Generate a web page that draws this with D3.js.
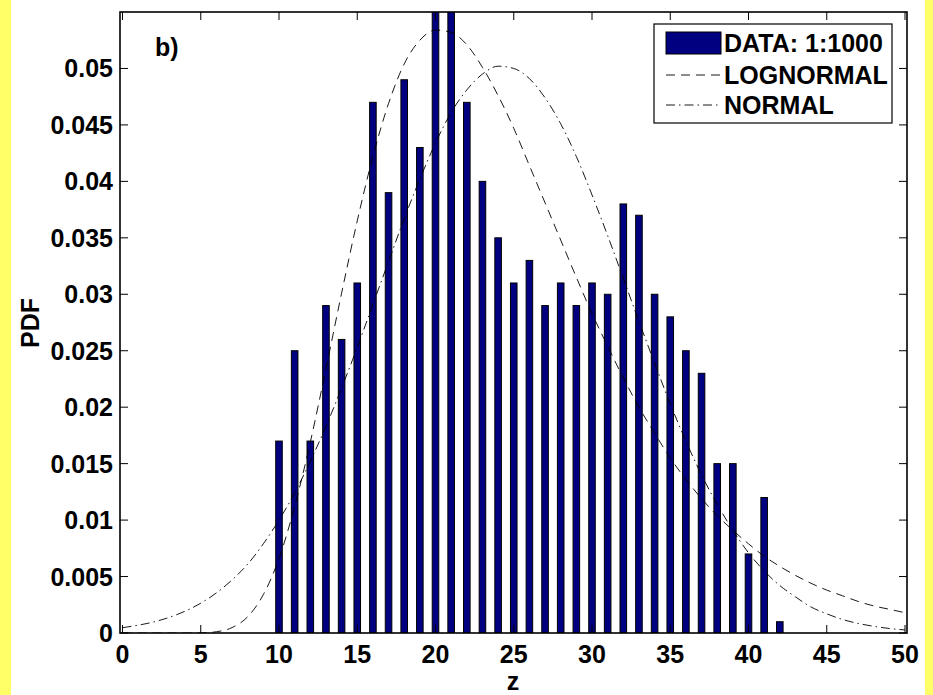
<!DOCTYPE html>
<html>
<head>
<meta charset="utf-8">
<script src="https://d3js.org/d3.v7.min.js"></script>
<style>
  body { margin: 0; background: #fff; }
  svg text { font-family: "Liberation Sans", Arial, sans-serif; font-weight: bold; fill: #000; }
</style>
</head>
<body>
<div id="chart"></div>
<script>
// histogram bins (z) and their PDF heights
var binZ = [10, 11, 12, 13, 14, 15, 16, 17, 18, 19, 20, 21, 22, 23, 24, 25, 26,
  27, 28, 29, 30, 31, 32, 33, 34, 35, 36, 37, 38, 39, 40, 41, 42];
var binPdf = [0.017, 0.025, 0.017, 0.029, 0.026, 0.031, 0.047, 0.039, 0.049, 0.043, 0.056, 0.056, 0.047,
  0.040, 0.035, 0.031, 0.033, 0.029, 0.031, 0.029, 0.031, 0.030, 0.038, 0.037, 0.030,
  0.028, 0.025, 0.023, 0.015, 0.015, 0.007, 0.012, 0.001];

// fitted curves, read at z = 0..50
var curveZ = [0, 1, 2, 3, 4, 5, 6, 7, 8, 9, 10, 11, 12, 13, 14, 15, 16, 17, 18, 19, 20,
  21, 22, 23, 24, 25, 26, 27, 28, 29, 30, 31, 32, 33, 34, 35, 36, 37, 38, 39, 40,
  41, 42, 43, 44, 45, 46, 47, 48, 49, 50];
var lognormalPdf = [0, 0, 0, 0, 0.000001, 0.000015, 0.00011, 0.00048, 0.00144, 0.0034, 0.0066,
  0.0112, 0.0169, 0.0234, 0.0301, 0.0365, 0.0422, 0.0469, 0.0504, 0.0525, 0.0534,
  0.0532, 0.0521, 0.0501, 0.0476, 0.0447, 0.0414, 0.0381, 0.0348, 0.0315, 0.0283,
  0.0254, 0.0226, 0.0200, 0.0177, 0.0155, 0.0136, 0.0119, 0.0104, 0.0091, 0.0079,
  0.0068, 0.0059, 0.0051, 0.0044, 0.0038, 0.0033, 0.0028, 0.0024, 0.0021, 0.0018];
var normalPdf = [0.00047, 0.00069, 0.00098, 0.00139, 0.00193, 0.00264, 0.00355, 0.0047, 0.0061, 0.0079, 0.0100,
  0.0124, 0.0152, 0.0183, 0.0217, 0.0253, 0.0291, 0.0329, 0.0367, 0.0402, 0.0434,
  0.0461, 0.0481, 0.0495, 0.0502, 0.0500, 0.0491, 0.0474, 0.0451, 0.0422, 0.0388,
  0.0352, 0.0314, 0.0276, 0.0239, 0.0203, 0.0170, 0.0140, 0.0114, 0.0091, 0.0071,
  0.0055, 0.0042, 0.0032, 0.0023, 0.0017, 0.0012, 0.00085, 0.00059, 0.0004, 0.00027];

var xTicks = [0, 5, 10, 15, 20, 25, 30, 35, 40, 45, 50];
var yTicks = [0, 0.005, 0.01, 0.015, 0.02, 0.025, 0.03, 0.035, 0.04, 0.045, 0.05];
var legendLabels = ["DATA: 1:1000", "LOGNORMAL", "NORMAL"];

var width = 933, height = 695;
var box = { left: 120, right: 907, top: 12, bottom: 633 };
var fontSize = "25px";

var svg = d3.select("#chart").append("svg")
  .attr("width", width)
  .attr("height", height);

// yellow figure background with white canvas
svg.append("rect").attr("width", width).attr("height", height).attr("fill", "#ffff66");
svg.append("rect").attr("x", 11).attr("width", 914).attr("height", height).attr("fill", "#fff");

var x = d3.scaleLinear().domain([0, 50]).range([122.5, 905]);
var y = d3.scaleLinear().domain([0, 0.055]).range([box.bottom, box.top]);

svg.append("clipPath").attr("id", "plotclip")
  .append("rect")
  .attr("x", box.left).attr("y", box.top)
  .attr("width", box.right - box.left).attr("height", box.bottom - box.top);

var plot = svg.append("g").attr("clip-path", "url(#plotclip)");

// bars
var barW = x(0.42) - x(0);
plot.selectAll(".bar")
  .data(binZ)
  .enter().append("rect")
  .attr("class", "bar")
  .attr("x", function(d) { return x(d) - barW / 2; })
  .attr("y", function(d, i) { return y(binPdf[i]); })
  .attr("width", barW)
  .attr("height", function(d, i) { return y(0) - y(binPdf[i]); })
  .attr("fill", "#000080")
  .attr("stroke", "#000")
  .attr("stroke-width", 1);

var line = d3.line()
  .x(function(d) { return x(d[0]); })
  .y(function(d) { return y(d[1]); })
  .curve(d3.curveMonotoneX);

plot.append("path")
  .datum(curveZ.map(function(z, i) { return [z, lognormalPdf[i]]; }))
  .attr("d", line)
  .attr("fill", "none")
  .attr("stroke", "#000")
  .attr("stroke-width", 0.9)
  .attr("stroke-dasharray", "9,6");

plot.append("path")
  .datum(curveZ.map(function(z, i) { return [z, normalPdf[i]]; }))
  .attr("d", line)
  .attr("fill", "none")
  .attr("stroke", "#000")
  .attr("stroke-width", 0.9)
  .attr("stroke-dasharray", "9,4,1.5,4");

// axes box and ticks (MATLAB style, inward on all sides)
var tickLen = 8;
var axes = svg.append("g").attr("stroke", "#000").attr("stroke-width", 1);
xTicks.forEach(function(t) {
  axes.append("line").attr("x1", x(t)).attr("x2", x(t)).attr("y1", box.bottom).attr("y2", box.bottom - tickLen);
  axes.append("line").attr("x1", x(t)).attr("x2", x(t)).attr("y1", box.top).attr("y2", box.top + tickLen);
});
yTicks.forEach(function(t) {
  axes.append("line").attr("x1", box.left).attr("x2", box.left + tickLen).attr("y1", y(t)).attr("y2", y(t));
  axes.append("line").attr("x1", box.right).attr("x2", box.right - tickLen).attr("y1", y(t)).attr("y2", y(t));
});
svg.append("rect")
  .attr("x", box.left).attr("y", box.top)
  .attr("width", box.right - box.left).attr("height", box.bottom - box.top)
  .attr("fill", "none").attr("stroke", "#000").attr("stroke-width", 1.6);

// tick labels
svg.selectAll(".xlab")
  .data(xTicks)
  .enter().append("text")
  .attr("class", "xlab")
  .attr("x", function(d) { return x(d); })
  .attr("y", 663)
  .attr("text-anchor", "middle")
  .style("font-size", fontSize)
  .text(function(d) { return d; });

svg.selectAll(".ylab")
  .data(yTicks)
  .enter().append("text")
  .attr("class", "ylab")
  .attr("x", 113)
  .attr("y", function(d) { return y(d); })
  .attr("dy", "0.36em")
  .attr("text-anchor", "end")
  .style("font-size", fontSize)
  .text(function(d) { return String(+d.toFixed(3)); });

svg.append("text")
  .attr("x", 513).attr("y", 690)
  .attr("text-anchor", "middle")
  .style("font-size", fontSize)
  .text("z");

svg.append("text")
  .attr("transform", "translate(39,323) rotate(-90)")
  .attr("text-anchor", "middle")
  .style("font-size", fontSize)
  .text("PDF");

svg.append("text")
  .attr("x", 155).attr("y", 56)
  .style("font-size", fontSize)
  .text("b)");

// legend
var leg = svg.append("g");
leg.append("rect")
  .attr("x", 654).attr("y", 24).attr("width", 238).attr("height", 99)
  .attr("fill", "#fff").attr("stroke", "#000").attr("stroke-width", 1.2);
var rowY = [43, 75, 105];
leg.append("rect")
  .attr("x", 666).attr("y", rowY[0] - 11).attr("width", 55).attr("height", 22)
  .attr("fill", "#000080").attr("stroke", "#000");
leg.append("line")
  .attr("x1", 666).attr("x2", 721).attr("y1", rowY[1]).attr("y2", rowY[1])
  .attr("stroke", "#000").attr("stroke-width", 0.9).attr("stroke-dasharray", "9,6");
leg.append("line")
  .attr("x1", 666).attr("x2", 721).attr("y1", rowY[2]).attr("y2", rowY[2])
  .attr("stroke", "#000").attr("stroke-width", 0.9).attr("stroke-dasharray", "9,4,1.5,4");
leg.selectAll(".legtext")
  .data(legendLabels)
  .enter().append("text")
  .attr("class", "legtext")
  .attr("x", 724)
  .attr("y", function(d, i) { return rowY[i]; })
  .attr("dy", "0.36em")
  .style("font-size", fontSize)
  .text(function(d) { return d; });
</script>
</body>
</html>
